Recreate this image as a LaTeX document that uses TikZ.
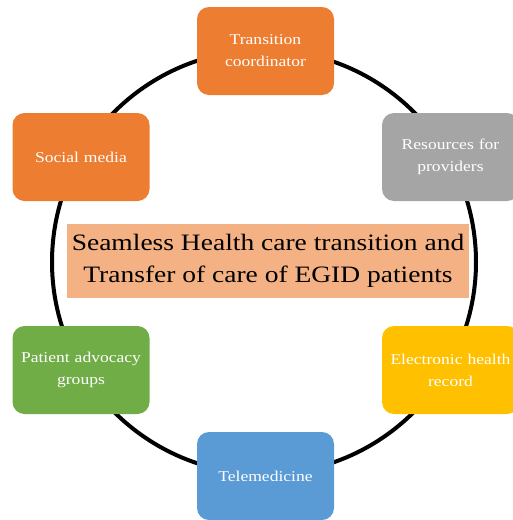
\documentclass[tikz,border=0pt]{standalone}
\usepackage{fontspec}
\setmainfont[FakeStretch=1.17]{Liberation Serif}

\definecolor{orangebox}{HTML}{ED7D31}
\definecolor{graybox}{HTML}{A5A5A5}
\definecolor{yellowbox}{HTML}{FFC000}
\definecolor{bluebox}{HTML}{5B9BD5}
\definecolor{greenbox}{HTML}{70AD47}
\definecolor{titlebox}{HTML}{F4B183}

\tikzset{
  item/.style={rounded corners=12pt, minimum width=137pt, minimum height=88pt,
    text width=134pt, align=center, text=white, inner sep=0pt,
    font=\fontsize{15}{22}\selectfont},
  title/.style={fill=titlebox, minimum width=402pt, minimum height=74pt,
    align=center, inner sep=0pt, font=\fontsize{23.5}{32}\selectfont}
}

\begin{document}
\begin{tikzpicture}[x=1pt,y=-1pt]

  \def\cx{264}
  \def\cy{262}
  \def\r{212}

  \useasboundingbox (0,0) rectangle (513,520);

  % ring
  \draw[line width=4pt] (\cx,\cy) circle [radius=\r pt];

  % boxes round the ring
  \node[item, fill=orangebox] (coord) at (265.5,51) {Transition\\coordinator};
  \node[item, fill=graybox] (resources) at (450.5,157) {Resources for\\providers};
  \node[item, fill=yellowbox] (ehr) at (450.5,370) {Electronic health\\record};
  \node[item, fill=bluebox] (tele) at (265.5,476) {Telemedicine};
  \node[item, fill=greenbox] (advocacy) at (81,370) {Patient advocacy\\groups};
  \node[item, fill=orangebox] (social) at (81,157) {Social media};

  % centre
  \node[title] (main) at (268,261) {Seamless Health care transition and\\Transfer of care of EGID patients};

\end{tikzpicture}
\end{document}
